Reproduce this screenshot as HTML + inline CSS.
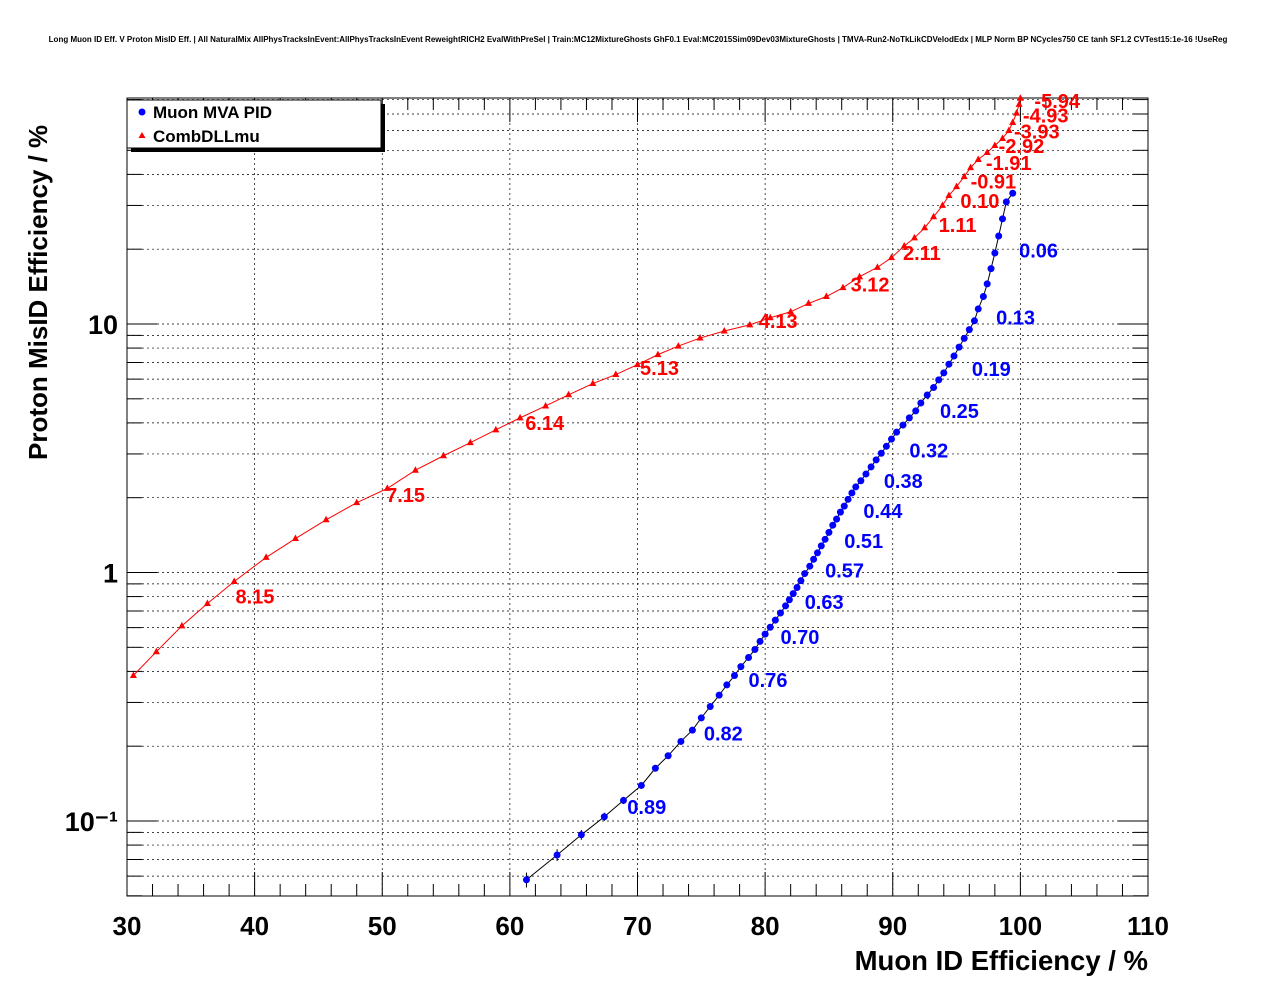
<!DOCTYPE html>
<html><head><meta charset="utf-8"><style>
body{margin:0;background:#fff;}
svg{display:block;font-family:"Liberation Sans",sans-serif;font-weight:bold;}
</style></head><body>
<svg id="chart" width="1276" height="996">
<text x="638" y="42" font-size="8.0" text-anchor="middle">Long Muon ID Eff. V Proton MisID Eff. | All NaturalMix AllPhysTracksInEvent:AllPhysTracksInEvent ReweightRICH2 EvalWithPreSel | Train:MC12MixtureGhosts GhF0.1 Eval:MC2015Sim09Dev03MixtureGhosts | TMVA-Run2-NoTkLikCDVelodEdx | MLP Norm BP NCycles750 CE tanh SF1.2 CVTest15:1e-16 !UseReg</text>
<g id="grid"></g>
<g id="axes"></g>
<g id="series"></g>
<text x="1148" y="970" font-size="27.5" text-anchor="end">Muon ID Efficiency / %</text>
<text transform="translate(47,460) rotate(-90)" font-size="26">Proton MisID Efficiency / %</text>
<g>
<rect x="131" y="104" width="254" height="48" fill="#000"/>
<rect x="127" y="100" width="254" height="48" fill="#fff" stroke="#000" stroke-width="1"/>
<circle cx="142" cy="112" r="3.5" fill="#00f"/>
<text x="153" y="118" font-size="17">Muon MVA PID</text>
<polygon points="142,132 138.5,138 145.5,138" fill="#f00"/>
<text x="153" y="142" font-size="17">CombDLLmu</text>
</g>
</svg>
<script>
const xTicks=[30,40,50,60,70,80,90,100,110];
const yMajor=[0.1,1,10];
const yMajorLabels=["10\u207B\u00B9","1","10"];
const redX=[30.5,32.3,34.3,36.3,38.4,40.9,43.2,45.6,48.0,50.4,52.6,54.8,56.9,58.9,60.8,62.8,64.6,66.5,68.3,70.0,71.6,73.2,74.9,76.8,78.8,80.4,82.0,83.4,84.8,86.1,87.4,88.8,89.9,90.9,91.7,92.5,93.2,93.9,94.4,95.0,95.6,96.1,96.7,97.4,98.0,98.6,99.1,99.4,99.7,99.9,100.0];
const redY=[0.385,0.48,0.61,0.75,0.92,1.15,1.37,1.63,1.91,2.18,2.58,2.95,3.33,3.75,4.19,4.68,5.19,5.76,6.26,6.86,7.53,8.15,8.78,9.37,9.92,10.6,11.2,12.1,12.9,14.0,15.5,16.9,18.5,20.6,22.2,24.4,27.0,30.0,32.9,35.7,39.2,42.6,45.9,49.0,52.3,55.8,60.1,64.7,70.6,76.5,81.0];
const redLabels=["8.15","7.15","6.14","5.13","4.13","3.12","2.11","1.11","0.10","-0.91","-1.91","-2.92","-3.93","-4.93","-5.94"];
const redLabelX=[38.5,50.3,61.2,70.2,79.5,86.7,90.8,93.6,95.3,96.1,97.3,98.3,99.5,100.2,101.1];
const redLabelY=[0.80,2.05,4.0,6.65,10.3,14.4,19.3,25.0,31.3,37.5,44.5,52.0,59.5,69.0,79.0];
const blueX=[61.3,63.7,65.6,67.4,68.9,70.3,71.4,72.4,73.4,74.3,75.0,75.7,76.4,77.0,77.6,78.1,78.7,79.2,79.6,80.0,80.4,80.8,81.2,81.6,81.9,82.2,82.5,82.8,83.1,83.5,83.8,84.1,84.4,84.7,85.0,85.3,85.6,85.9,86.2,86.5,86.8,87.1,87.5,87.9,88.3,88.7,89.1,89.5,89.9,90.3,90.8,91.3,91.8,92.2,92.7,93.2,93.6,94.0,94.4,94.8,95.2,95.6,96.0,96.4,96.7,97.1,97.4,97.7,98.0,98.3,98.6,98.9,99.4];
const blueY=[0.058,0.073,0.088,0.104,0.121,0.139,0.163,0.183,0.209,0.232,0.260,0.289,0.321,0.353,0.385,0.418,0.455,0.490,0.528,0.565,0.602,0.643,0.687,0.734,0.777,0.822,0.870,0.927,0.99,1.06,1.13,1.20,1.28,1.36,1.45,1.55,1.64,1.75,1.85,1.97,2.09,2.21,2.34,2.49,2.66,2.84,3.02,3.22,3.44,3.67,3.92,4.19,4.47,4.81,5.18,5.55,5.96,6.36,6.89,7.43,8.07,8.75,9.49,10.3,11.5,12.9,14.5,16.7,19.3,22.6,26.5,31.0,33.6];
const blueErr=[0.004,0.004,0.004,0.004,0.004,0.004,0.004,0.004,0.004,0.003];
const blueLabels=["0.89","0.82","0.76","0.70","0.63","0.57","0.51","0.44","0.38","0.32","0.25","0.19","0.13","0.06"];
const blueLabelX=[69.2,75.2,78.7,81.2,83.1,84.7,86.2,87.7,89.3,91.3,93.7,96.2,98.1,99.9];
const blueLabelY=[0.114,0.225,0.37,0.55,0.76,1.02,1.34,1.77,2.33,3.1,4.47,6.6,10.6,19.8];

const NS="http://www.w3.org/2000/svg";
const X0=127,X1=1148,Y0=98,Y1=896;
const xs=v=>X0+(v-30)/80*(X1-X0);
const ys=v=>324-(Math.log10(v)-1)*248.5;
function mk(tag,attrs,parent){const e=document.createElementNS(NS,tag);for(const k in attrs)e.setAttribute(k,attrs[k]);parent.appendChild(e);return e;}
const grid=document.getElementById('grid'),axes=document.getElementById('axes'),series=document.getElementById('series');
xTicks.forEach(t=>{if(t>30&&t<110){const l=mk('line',{x1:xs(t),x2:xs(t),y1:Y0,y2:Y1,stroke:'#000','stroke-width':0.7,'stroke-dasharray':'2,3'},grid);

}});
const yVals=[];
for(let d=-2;d<=1;d++)for(let m=1;m<=9;m++){const v=m*Math.pow(10,d);const py=ys(v);if(py>Y0&&py<Y1)yVals.push([v,m]);}
yVals.forEach(([v,m])=>{const py=ys(v);
const g=mk('line',{x1:X0,x2:X1,y1:py,y2:py,stroke:'#000','stroke-width':0.7,'stroke-dasharray':'2,3'},grid);


const len=m===1?30:15;
mk('line',{x1:X0,x2:X0+len,y1:py,y2:py,stroke:'#000'},axes);
mk('line',{x1:X1,x2:X1-len,y1:py,y2:py,stroke:'#000'},axes);});
mk('rect',{x:X0,y:Y0,width:X1-X0,height:Y1-Y0,fill:'none',stroke:'#000'},axes);
yMajor.forEach((v,i)=>{const t=mk('text',{x:X0-9,y:ys(v)+10,'font-size':27,'text-anchor':'end'},axes);t.textContent=yMajorLabels[i];

});
for(let v=30;v<=110;v+=2){const major=v%10===0;const px=xs(v);const len=major?24:12;
mk('line',{x1:px,x2:px,y1:Y1,y2:Y1-len,stroke:'#000'},axes);mk('line',{x1:px,x2:px,y1:Y0,y2:Y0+len,stroke:'#000'},axes);}
xTicks.forEach(v=>{const t=mk('text',{x:xs(v),y:935,'font-size':26,'text-anchor':'middle'},axes);t.textContent=v;

});
mk('polyline',{points:redX.map((x,i)=>xs(x)+','+ys(redY[i])).join(' '),fill:'none',stroke:'#f00','stroke-width':1},series);
redX.forEach((x,i)=>{const cx=xs(x),cy=ys(redY[i]);const p=mk('polygon',{points:`${cx},${cy-4} ${cx-3.5},${cy+2.5} ${cx+3.5},${cy+2.5}`,fill:'#f00'},series);

});
redLabels.forEach((s,i)=>{const t=mk('text',{x:xs(redLabelX[i]),y:ys(redLabelY[i])+7,'font-size':20,fill:'#f00'},series);t.textContent=s;

});
mk('polyline',{points:blueX.map((x,i)=>xs(x)+','+ys(blueY[i])).join(' '),fill:'none',stroke:'#000','stroke-width':1},series);
blueX.forEach((x,i)=>{const cx=xs(x),cy=ys(blueY[i]);
if(i<blueErr.length){const e=blueErr[i];mk('line',{x1:cx,x2:cx,y1:ys(blueY[i]+e),y2:ys(blueY[i]-e),stroke:'#000'},series);}
const c=mk('circle',{cx:cx,cy:cy,r:3.5,fill:'#00f'},series);

});
blueLabels.forEach((s,i)=>{const t=mk('text',{x:xs(blueLabelX[i]),y:ys(blueLabelY[i])+7,'font-size':20,fill:'#00f'},series);t.textContent=s;

});
</script>
</body></html>
